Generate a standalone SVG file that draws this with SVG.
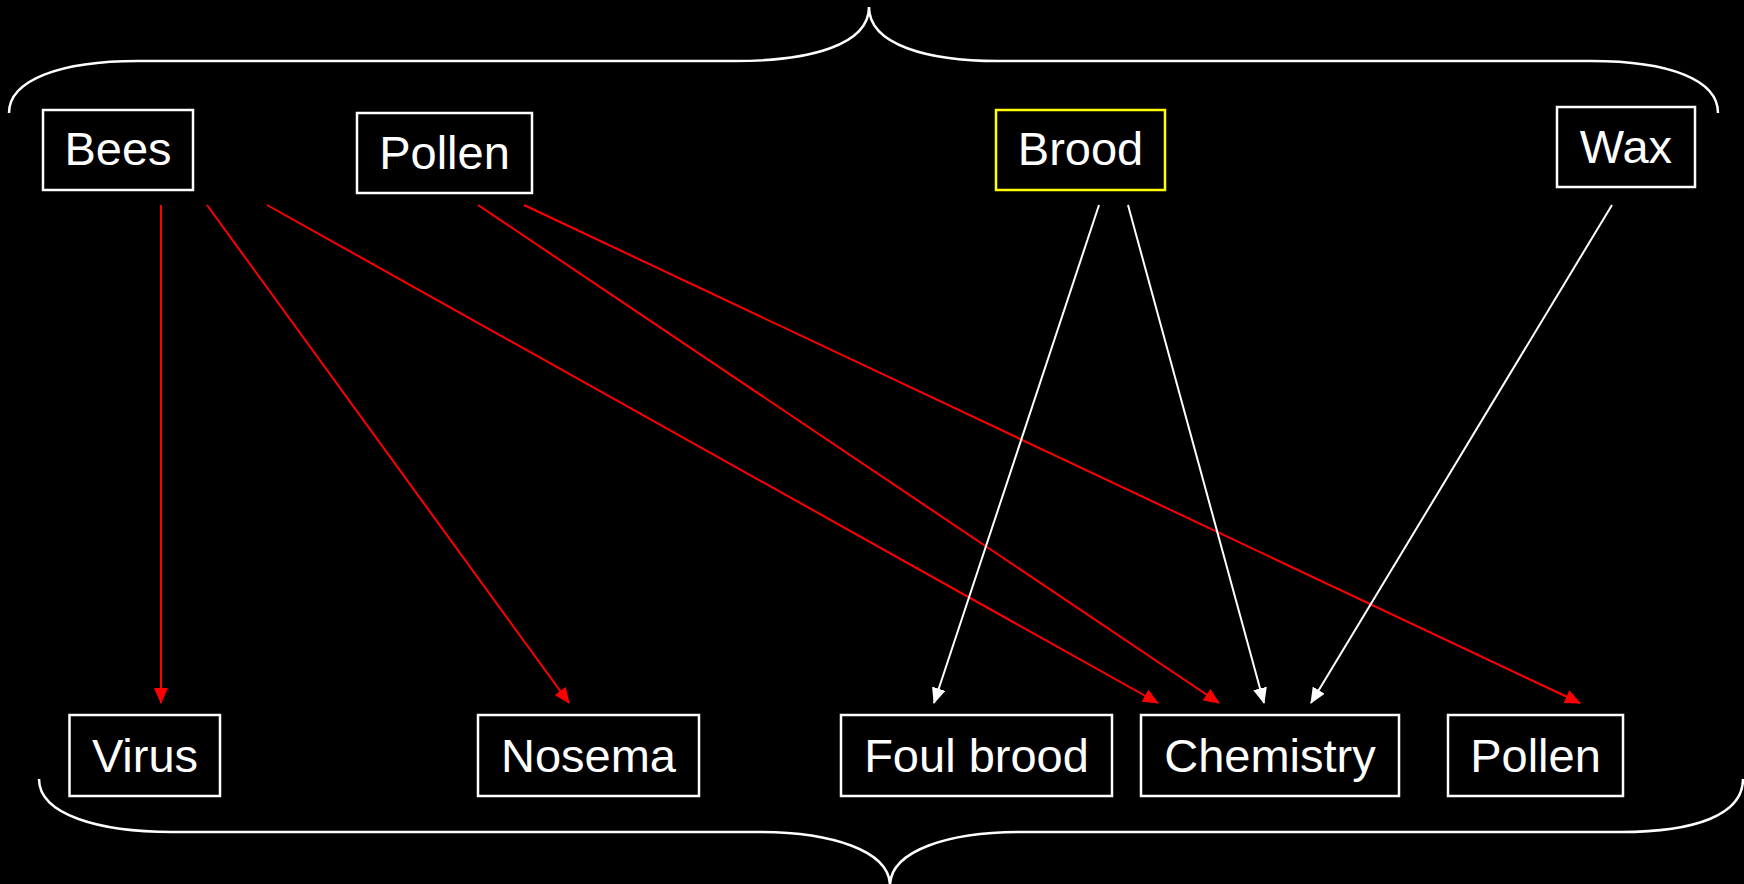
<svg xmlns="http://www.w3.org/2000/svg" width="1744" height="884" viewBox="0 0 1744 884">
<style>
.bg{fill:#000}
.box{fill:#000;stroke:#fff;stroke-width:2.5}
.box.hl{stroke:#ffff00}
.lbl{fill:#fff;font-family:"Liberation Sans",Arial,sans-serif;font-size:47px;text-anchor:middle}
.brace{fill:none;stroke:#fff;stroke-width:2.5}
.red{stroke:#ff0000;stroke-width:2;fill:none}
.wht{stroke:#ffffff;stroke-width:2;fill:none}
</style>
<defs>
<marker id="ar" viewBox="0 0 16 14" refX="15" refY="7" markerWidth="16" markerHeight="14" markerUnits="userSpaceOnUse" orient="auto"><path d="M0,0 L16,7 L0,14 z" fill="#ff0000"/></marker>
<marker id="aw" viewBox="0 0 16 14" refX="15" refY="7" markerWidth="16" markerHeight="14" markerUnits="userSpaceOnUse" orient="auto"><path d="M0,0 L16,7 L0,14 z" fill="#ffffff"/></marker>
</defs>
<rect class="bg" x="0" y="0" width="1744" height="884"/>
<g id="braces">
<path class="brace" d="M9,113 C9,80 60,61 138,61 L735,61 C810,61 869,45 869,7 C869,45 928,61 998,61 L1591,61 C1670,61 1718,80 1718,113"/>
<path class="brace" d="M39,779 C39,815 100,832 172,832 L758,832 C830,832 890,850 890,886 C890,850 950,832 1020,832 L1621,832 C1695,832 1743,815 1743,779"/>
</g>
<g id="connectors">
<line class="red" x1="161" y1="205" x2="161" y2="703" marker-end="url(#ar)"/>
<line class="red" x1="207" y1="205" x2="569" y2="703" marker-end="url(#ar)"/>
<line class="red" x1="267" y1="205" x2="1158" y2="703" marker-end="url(#ar)"/>
<line class="red" x1="478" y1="205" x2="1219" y2="703" marker-end="url(#ar)"/>
<line class="red" x1="524" y1="205" x2="1580" y2="703" marker-end="url(#ar)"/>
<line class="wht" x1="1099" y1="205" x2="934" y2="703" marker-end="url(#aw)"/>
<line class="wht" x1="1128" y1="205" x2="1264" y2="703" marker-end="url(#aw)"/>
<line class="wht" x1="1612" y1="205" x2="1311" y2="703" marker-end="url(#aw)"/>
</g>
<g id="bees"><rect class="box" x="43" y="110" width="150" height="80"/><text class="lbl" x="118" y="165">Bees</text></g>
<g id="pollen-top"><rect class="box" x="357" y="113" width="175" height="80"/><text class="lbl" x="444.5" y="169">Pollen</text></g>
<g id="brood"><rect class="box hl" x="996" y="110" width="169" height="80"/><text class="lbl" x="1080.5" y="165">Brood</text></g>
<g id="wax"><rect class="box" x="1557" y="107" width="138" height="80"/><text class="lbl" x="1626" y="163">Wax</text></g>
<g id="virus"><rect class="box" x="69.5" y="715" width="150.5" height="81"/><text class="lbl" x="145" y="772">Virus</text></g>
<g id="nosema"><rect class="box" x="478" y="715" width="221" height="81"/><text class="lbl" x="588.5" y="772">Nosema</text></g>
<g id="foulbrood"><rect class="box" x="841" y="715" width="271" height="81"/><text class="lbl" x="976.5" y="772">Foul brood</text></g>
<g id="chemistry"><rect class="box" x="1141" y="715" width="258" height="81"/><text class="lbl" x="1270" y="772">Chemistry</text></g>
<g id="pollen-bottom"><rect class="box" x="1448" y="715" width="175" height="81"/><text class="lbl" x="1535.5" y="772">Pollen</text></g>
</svg>
